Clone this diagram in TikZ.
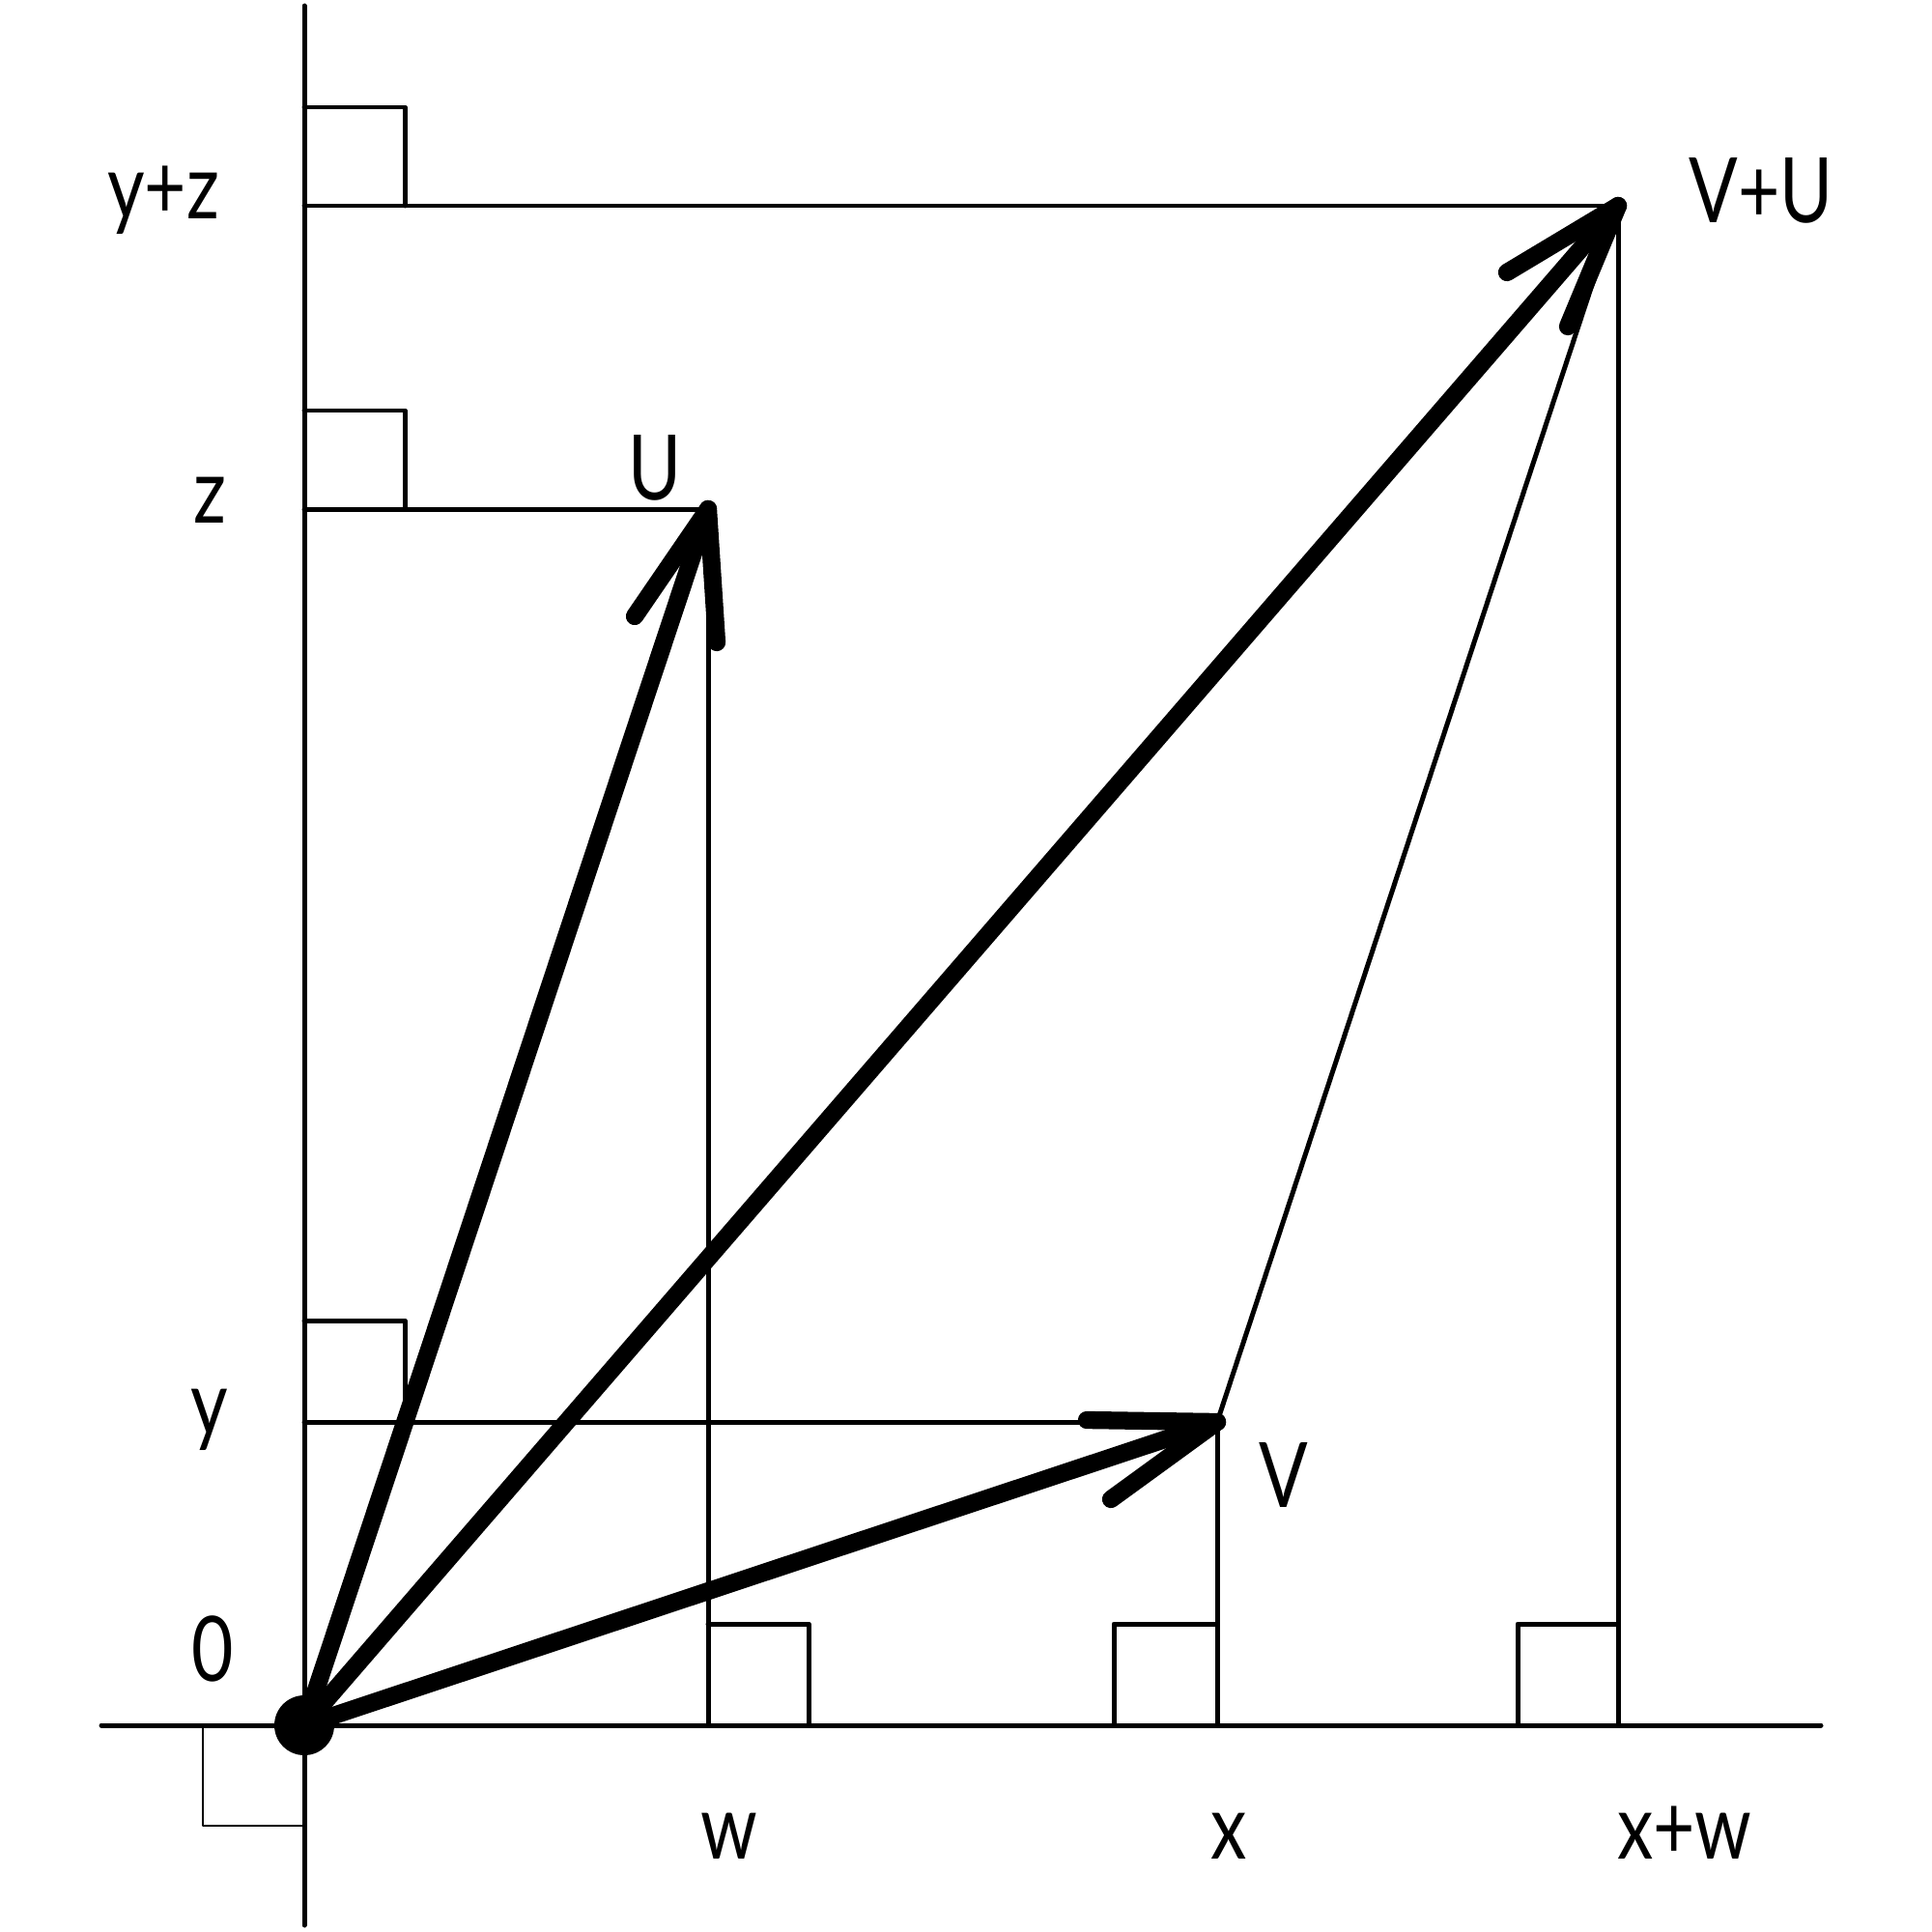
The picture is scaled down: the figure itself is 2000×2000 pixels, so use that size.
\documentclass[tikz,border=0pt]{standalone}
\usepackage{fontspec}
\setmainfont{Lato}
\newcommand{\lblx}[1]{\scalebox{0.8}[1]{#1}}
\begin{document}
\begin{tikzpicture}[x=0.01cm,y=-0.01cm, line cap=round, line join=round,
  thinline/.style={line width=1.42pt},
  thickvec/.style={line width=5.2pt},
  hairline/.style={line width=0.45pt},
  lbl/.style={inner sep=0pt, anchor=base, font=\fontsize{26.6}{30}\selectfont}]
\useasboundingbox (0,0) rectangle (2000,2000);
% key points
\coordinate (O) at (315,1786);
\coordinate (yt) at (315,6);
\coordinate (yb) at (315,1993);
\coordinate (xl) at (105,1786);
\coordinate (xr) at (1885,1786);
\coordinate (U) at (733,527);
\coordinate (V) at (1260,1472);
\coordinate (S) at (1675,213);
\coordinate (W) at (733,1786);
\coordinate (X) at (1260,1786);
\coordinate (XW) at (1675,1786);
\coordinate (Y) at (315,1472);
\coordinate (Z) at (315,527);
\coordinate (YZ) at (315,213);
% arrow wing ends
\coordinate (Ua) at (657,638);
\coordinate (Ub) at (742,665);
\coordinate (Va) at (1125,1470);
\coordinate (Vb) at (1150,1552);
\coordinate (Sa) at (1560,282);
\coordinate (Sb) at (1623,338);
% axes
\draw[thinline] (yt) -- (yb);
\draw[thinline] (xl) -- (xr);
% projection lines
\draw[thinline] (YZ) -- (S);
\draw[thinline] (Z) -- (U);
\draw[thinline] (Y) -- (V);
\draw[thinline] (W) -- (U);
\draw[thinline] (X) -- (V);
\draw[thinline] (XW) -- (S);
% right angle marks
\draw[thinline] (YZ) ++(0,-102) -- ++(104,0) -- ++(0,102);
\draw[thinline] (Z) ++(0,-102) -- ++(104,0) -- ++(0,102);
\draw[thinline] (Y) ++(0,-105) -- ++(104,0) -- ++(0,105);
\draw[thinline] (W) ++(0,-105) -- ++(104,0) -- ++(0,105);
\draw[thinline] (X) ++(-107,0) -- ++(0,-105) -- ++(107,0);
\draw[thinline] (XW) ++(-104,0) -- ++(0,-105) -- ++(104,0);
\draw[hairline] (O) ++(-105,0) -- ++(0,104) -- ++(105,0);
% parallelogram side
\draw[thinline] (V) -- (S);
% vectors
\draw[thickvec] (O) -- (U);
\draw[thickvec] (Ua) -- (U) -- (Ub);
\draw[thickvec] (O) -- (V);
\draw[thickvec] (Va) -- (V) -- (Vb);
\draw[thickvec] (O) -- (S);
\draw[thickvec] (Sa) -- (S) -- (Sb);
\fill (O) circle (31);
% labels
\node[lbl] (lyz) at (169,227) {\lblx{y+z}};
\node[lbl] (lz) at (217,541) {\lblx{z}};
\node[lbl] (ly) at (217,1485) {\lblx{y}};
\node[lbl] (l0) at (220,1740) {\lblx{0}};
\node[lbl] (lU) at (678,517) {\lblx{U}};
\node[lbl] (lV) at (1329,1560) {\lblx{V}};
\node[lbl] (lS) at (1823,230) {\lblx{V+U}};
\node[lbl] (lw) at (755,1924) {\lblx{w}};
\node[lbl] (lx) at (1272,1924) {\lblx{x}};
\node[lbl] (lxw) at (1744,1924) {\lblx{x+w}};
\end{tikzpicture}
\end{document}
